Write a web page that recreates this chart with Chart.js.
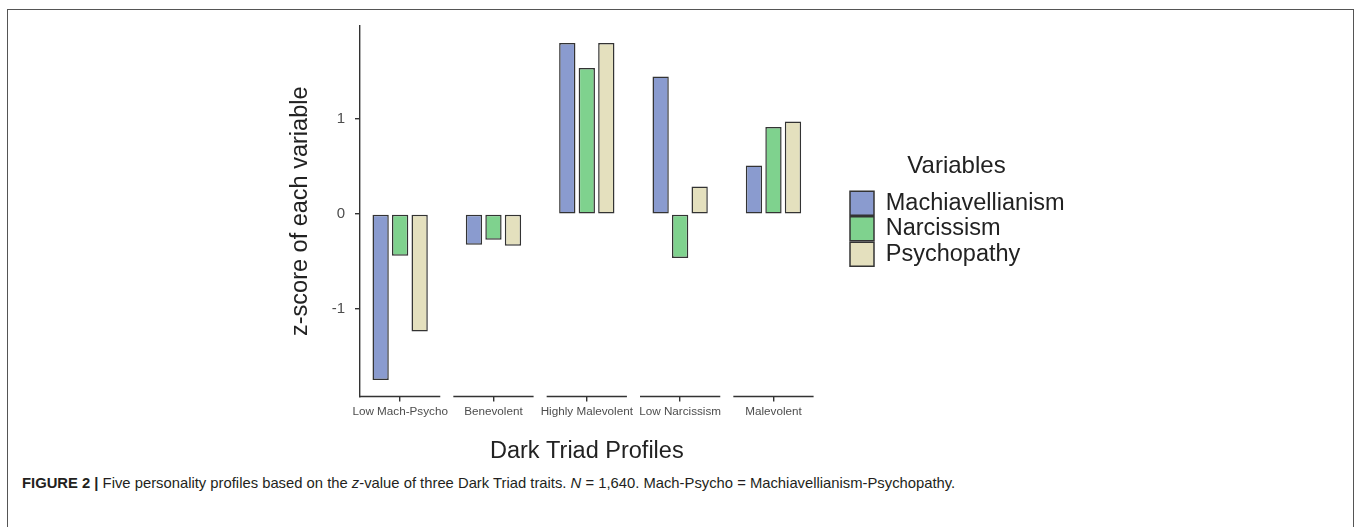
<!DOCTYPE html>
<html lang="en">
<head>
    <meta charset="UTF-8">
    <title>Dark Triad Profiles</title>
    <script src="https://cdn.jsdelivr.net/npm/chart.js"></script>
    <style>
        body { margin: 0; background: #fff; }
        #frame {
            position: absolute; left: 7px; top: 9px; width: 1347px; height: 540px;
            border: 1px solid #555; box-sizing: border-box;
        }
        #wrap { position: absolute; left: 0; top: 0; width: 1357px; height: 470px; }
        #caption {
            position: absolute; left: 22px; top: 475px; white-space: nowrap;
            font-family: "Liberation Sans", Arial, sans-serif; font-size: 14.8px; color: #231f20;
        }
    </style>
</head>
<body>
<div id="frame"></div>
<div id="wrap"><canvas id="diagram" width="1357" height="470"></canvas></div>
<div id="caption"><b>FIGURE 2 |</b> Five personality profiles based on the <i>z</i>-value of three Dark Triad traits. <i>N</i> = 1,640. Mach-Psycho = Machiavellianism-Psychopathy.</div>
<script>
    const profiles = ["Low Mach-Psycho", "Benevolent", "Highly Malevolent", "Low Narcissism", "Malevolent"];
    const machiavellianism = [-1.745, -0.323, 1.80, 1.449, 0.512];
    const narcissism = [-0.439, -0.271, 1.537, -0.463, 0.916];
    const psychopathy = [-1.236, -0.334, 1.80, 0.291, 0.975];

    // half width of each category's axis segment (in category units)
    const segHalf = 0.43;
    const axisColor = "#333333";
    const fontFamily = "'Liberation Sans', Arial, sans-serif";

    function toPoints(values) {
        return values.map((v, i) => ({x: i, y: v}));
    }

    function makeSet(label, values, color) {
        return {
            label: label,
            data: toPoints(values),
            backgroundColor: color,
            borderColor: "#333333",
            borderWidth: 1.5,
            borderSkipped: false,
            categoryPercentage: 0.627,
            barPercentage: 0.836
        };
    }

    // x axis in ggplot style: one short line per category
    const segmentAxis = {
        id: "segmentAxis",
        afterDraw(chart) {
            const xs = chart.scales.x;
            const ctx = chart.ctx;
            const y = chart.chartArea.bottom;
            ctx.save();
            ctx.strokeStyle = axisColor;
            ctx.lineWidth = 1.4;
            profiles.forEach((p, i) => {
                ctx.beginPath();
                ctx.moveTo(xs.getPixelForValue(i - segHalf), y);
                ctx.lineTo(xs.getPixelForValue(i + segHalf), y);
                ctx.stroke();
            });
            ctx.restore();
        }
    };

    var chart = new Chart("diagram", {
        type: "bar",
        data: {
            datasets: [
                makeSet("Machiavellianism", machiavellianism, "#8a9bcf"),
                makeSet("Narcissism", narcissism, "#7fd28e"),
                makeSet("Psychopathy", psychopathy, "#e4e0be")
            ]
        },
        plugins: [segmentAxis],
        options: {
            responsive: false,
            animation: false,
            layout: {
                padding: {left: 283, right: 292.5, top: 26, bottom: 0}
            },
            plugins: {
                tooltip: {enabled: false},
                legend: {
                    position: "right",
                    fullSize: false,
                    maxWidth: 216,
                    title: {
                        display: true,
                        text: "Variables",
                        color: "#222",
                        font: {family: fontFamily, size: 24, lineHeight: 1.0},
                        padding: {top: 0, bottom: 11}
                    },
                    labels: {
                        boxWidth: 24,
                        boxHeight: 24,
                        padding: 1.5,
                        color: "#222",
                        font: {family: fontFamily, size: 23.5}
                    }
                }
            },
            scales: {
                x: {
                    type: "linear",
                    offset: false,
                    min: -segHalf,
                    max: profiles.length - 1 + segHalf,
                    afterBuildTicks: (scale) => {
                        scale.ticks = profiles.map((p, i) => ({value: i}));
                    },
                    afterFit: (scale) => { scale.height = 73.5; },
                    border: {display: false},
                    grid: {offset: false, drawOnChartArea: false, drawTicks: true, tickLength: 5, color: axisColor, lineWidth: 1.4},
                    ticks: {
                        autoSkip: false,
                        maxRotation: 0,
                        padding: 3,
                        color: "#4d4d4d",
                        font: {family: fontFamily, size: 11.7},
                        callback: (v) => profiles[v]
                    },
                    title: {
                        display: true,
                        text: "Dark Triad Profiles",
                        color: "#222",
                        font: {family: fontFamily, size: 23.5},
                        padding: {top: 0, bottom: 3.9}
                    }
                },
                y: {
                    min: -1.92,
                    max: 1.98,
                    afterFit: (scale) => { scale.width = 77; },
                    border: {display: true, color: axisColor, width: 1.4},
                    grid: {drawOnChartArea: false, drawTicks: true, tickLength: 5, color: axisColor, lineWidth: 1.4},
                    ticks: {
                        stepSize: 1,
                        includeBounds: false,
                        padding: 10,
                        color: "#4d4d4d",
                        font: {family: fontFamily, size: 15}
                    },
                    title: {
                        display: true,
                        text: "z-score of each variable",
                        color: "#222",
                        font: {family: fontFamily, size: 23.5},
                        padding: {top: 3.9, bottom: 0}
                    }
                },
                pad: {
                    type: "linear",
                    position: "right",
                    display: true,
                    grid: {display: false},
                    ticks: {display: false},
                    border: {display: false},
                    afterFit: (scale) => { scale.width = 34.9; }
                }
            }
        }
    });
</script>
</body>
</html>
